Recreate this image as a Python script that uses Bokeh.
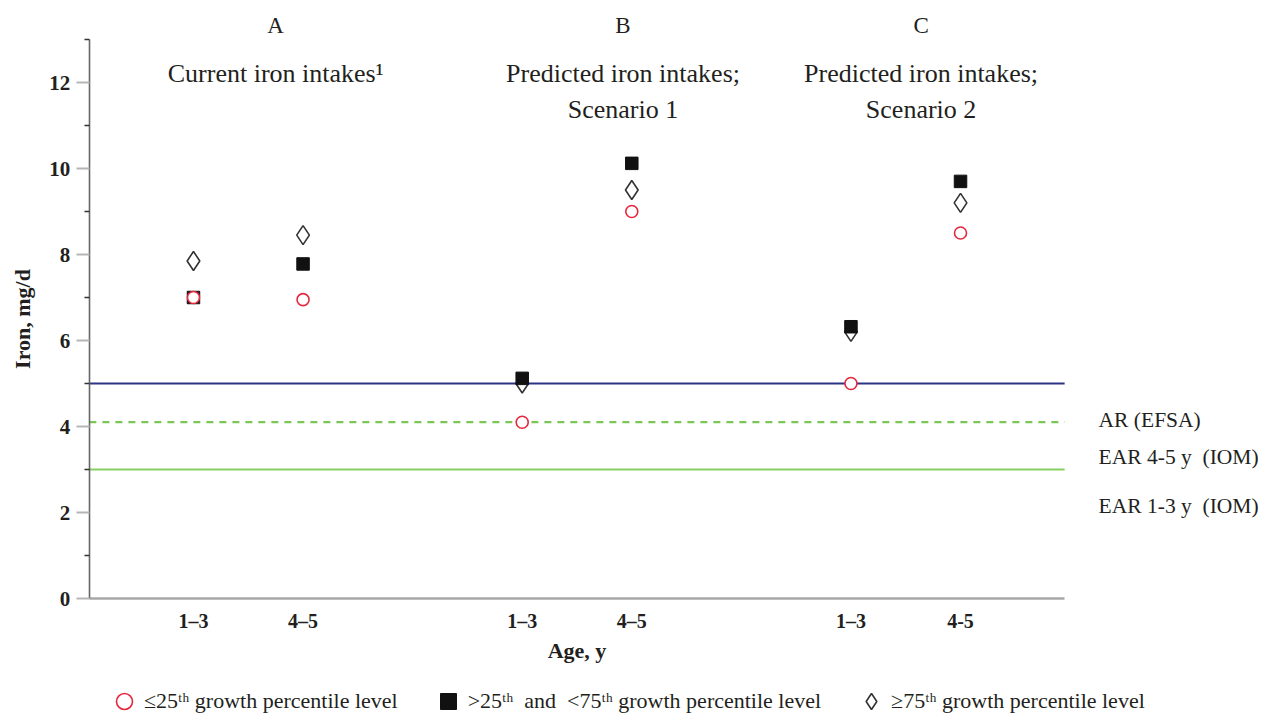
from bokeh.plotting import figure
from bokeh.models import Range1d, FixedTicker, Label, Legend, LegendItem, ColumnDataSource
from bokeh.embed import file_html
from bokeh.resources import INLINE

# ---------------- data ----------------
panels = ["A", "B", "C"]
panel_titles = [["Current iron intakes\u00b9"],
                ["Predicted iron intakes;", "Scenario 1"],
                ["Predicted iron intakes;", "Scenario 2"]]
age_labels = ["1\u20133", "4\u20135", "1\u20133", "4\u20135", "1\u20133", "4-5"]
low_pct = [7.0, 6.95, 4.1, 9.0, 5.0, 8.5]      # <=25th growth percentile
mid_pct = [7.0, 7.78, 5.12, 10.12, 6.32, 9.7]  # >25th and <75th
high_pct = [7.85, 8.45, 5.0, 9.5, 6.2, 9.2]    # >=75th
ref_values = [5.0, 4.1, 3.0]
ref_labels = ["AR (EFSA)", "EAR 4-5 y\u00a0 (IOM)", "EAR 1-3 y\u00a0 (IOM)"]
legend_labels = ["\u226425\u1d57\u02b0 growth percentile level",
                 ">25\u1d57\u02b0\u00a0 and\u00a0 <75\u1d57\u02b0 growth percentile level",
                 "\u226575\u1d57\u02b0 growth percentile level"]
y_major = [0, 2, 4, 6, 8, 10, 12]
y_minor = [1, 3, 5, 7, 9, 11, 13]

# x position of each (panel, age) slot: two ages per panel, one empty slot between panels
xs = [3 * (i // 2) + (i % 2) + 1 for i in range(len(age_labels))]

# ---------------- layout constants ----------------
X_AXIS_BOUNDS = (0.05, 8.95)
Y_AXIS_BOUNDS = (0, 13)
SERIF = "Liberation Serif"
TXT = "#231f20"

p = figure(width=1264, height=713,
           x_range=Range1d(-0.761, 10.774), y_range=Range1d(-2.674, 13.907),
           output_backend="svg", toolbar_location=None,
           min_border_left=0, min_border_right=0,
           min_border_top=0, min_border_bottom=0)
p.outline_line_color = None
p.grid.visible = False
p.background_fill_color = "white"
p.border_fill_color = "white"

# reference lines (span the x axis extent)
ref_styles = [dict(line_color="#2d3282", line_width=2.2, line_dash="solid"),
              dict(line_color="#7cc655", line_width=2.2, line_dash="7 6"),
              dict(line_color="#86cf62", line_width=1.8, line_dash="solid")]
for v, st in zip(ref_values, ref_styles):
    p.segment(x0=[X_AXIS_BOUNDS[0]], x1=[X_AXIS_BOUNDS[1]], y0=[v], y1=[v], **st)

src = ColumnDataSource(dict(x=xs, low=low_pct, mid=mid_pct, high=high_pct))
r_high = p.scatter("x", "high", source=src, marker="diamond", size=19,
                   fill_color="white", line_color="#333333", line_width=1.6)
r_mid = p.scatter("x", "mid", source=src, marker="square", size=12.5,
                  fill_color="#111111", line_color="#111111", line_width=1)
r_low = p.scatter("x", "low", source=src, marker="circle", size=12,
                  fill_color="white", line_color="#e5283f", line_width=1.6)

# ---------------- axes ----------------
ya = p.yaxis[0]
ya.fixed_location = X_AXIS_BOUNDS[0]
ya.bounds = Y_AXIS_BOUNDS
ya.ticker = FixedTicker(ticks=y_major, minor_ticks=y_minor)
ya.axis_line_color = "#666666"
ya.axis_line_width = 1.6
ya.major_tick_line_color = "#b5b5b5"
ya.major_tick_line_width = 2
ya.major_tick_out = 13
ya.major_tick_in = 0
ya.minor_tick_line_color = "#333333"
ya.minor_tick_line_width = 1.5
ya.minor_tick_out = 5
ya.minor_tick_in = 0
ya.major_label_standoff = 6
ya.major_label_text_font = SERIF
ya.major_label_text_font_style = "bold"
ya.major_label_text_font_size = "21px"
ya.major_label_text_color = TXT
ya.axis_label = "Iron, mg/d"
ya.axis_label_text_font = SERIF
ya.axis_label_text_font_style = "bold"
ya.axis_label_text_font_size = "22px"
ya.axis_label_text_color = TXT
ya.axis_label_standoff = 12

xa = p.xaxis[0]
xa.fixed_location = Y_AXIS_BOUNDS[0]
xa.bounds = X_AXIS_BOUNDS
xa.ticker = FixedTicker(ticks=xs)
xa.major_label_overrides = {x: lab for x, lab in zip(xs, age_labels)}
xa.axis_line_color = "#a8a8a8"
xa.axis_line_width = 2.5
xa.major_tick_line_color = None
xa.major_tick_out = 0
xa.major_tick_in = 0
xa.minor_tick_line_color = None
xa.major_label_standoff = 11
xa.major_label_text_font = SERIF
xa.major_label_text_font_style = "bold"
xa.major_label_text_font_size = "20px"
xa.major_label_text_color = TXT
xa.axis_label = "Age, y"
xa.axis_label_text_font = SERIF
xa.axis_label_text_font_style = "bold"
xa.axis_label_text_font_size = "22px"
xa.axis_label_text_color = TXT
xa.axis_label_standoff = 3

# ---------------- panel letters and titles ----------------
title_x = [1.75, 4.92, 7.64]
for name, lines, tx in zip(panels, panel_titles, title_x):
    p.add_layout(Label(x=tx, y=13.33, text=name, text_font=SERIF, text_font_size="23px",
                       text_color=TXT, text_align="center", text_baseline="middle"))
    for j, line in enumerate(lines):
        p.add_layout(Label(x=tx, y=12.21 - j * 0.84, text=line, text_font=SERIF,
                           text_font_size="26px", text_color=TXT,
                           text_align="center", text_baseline="middle"))

# reference line labels (right side)
ref_label_y = [4.16, 3.28, 2.16]
for lab, ly in zip(ref_labels, ref_label_y):
    p.add_layout(Label(x=9.26, y=ly, text=lab, text_font=SERIF, text_font_size="21.5px",
                       text_color=TXT, text_align="left", text_baseline="middle"))

legend = Legend(items=[LegendItem(label=legend_labels[0], renderers=[r_low]),
                       LegendItem(label=legend_labels[1], renderers=[r_mid]),
                       LegendItem(label=legend_labels[2], renderers=[r_high])],
                location=(104, -8), orientation="horizontal",
                glyph_width=40, glyph_height=40, label_height=40,
                label_standoff=0, spacing=30, padding=0, margin=0,
                border_line_color=None, background_fill_alpha=0,
                label_text_font=SERIF, label_text_font_size="22px",
                label_text_color=TXT, label_text_baseline="middle")
p.add_layout(legend, "center")

open("out.html", "w").write(file_html(p, INLINE))
